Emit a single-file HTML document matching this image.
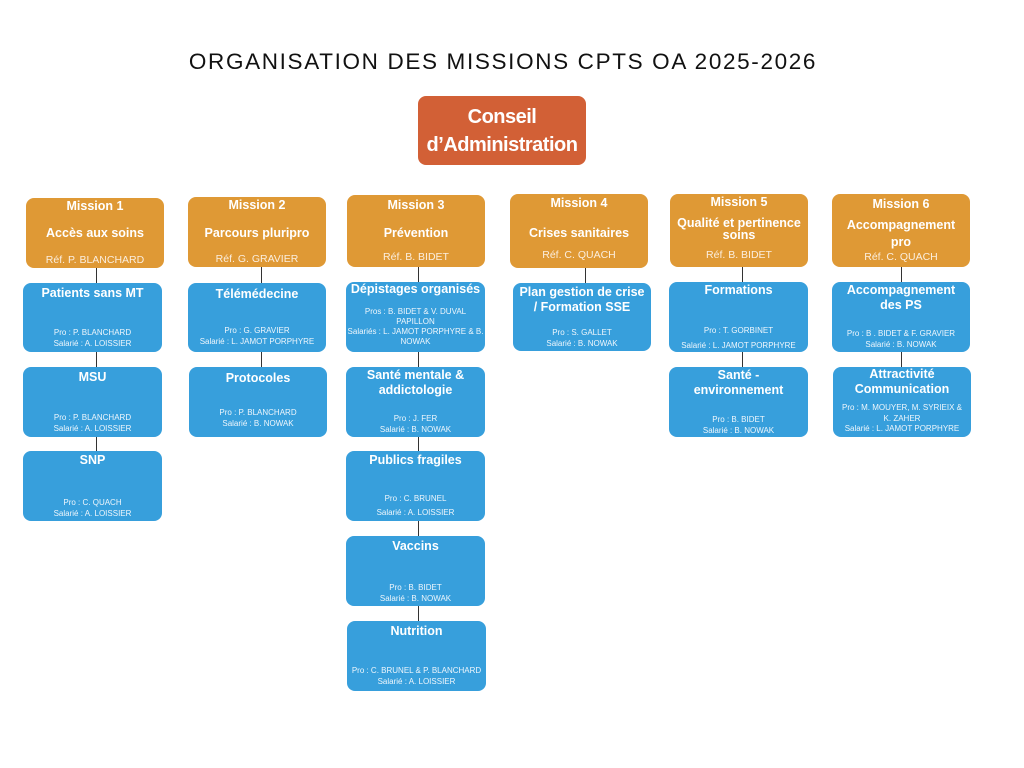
<!DOCTYPE html>
<html><head><meta charset="utf-8"><style>
body{margin:0;width:1024px;height:768px;background:#fff;position:relative;overflow:hidden;font-family:"Liberation Sans",sans-serif}
.t{position:absolute;left:0;width:1006px;top:49px;text-align:center;font-size:22.5px;letter-spacing:1.65px;color:#111}
.b{position:absolute;border-radius:8px;color:#fff;text-align:center}
.o{background:#df9935}
.c{background:#379fdc}
.h{position:absolute;left:0;right:0;font-weight:bold;font-size:12.5px;line-height:15px}
.s{position:absolute;left:0;right:0;font-size:8px;line-height:10.5px;color:#eef6fc;white-space:nowrap}
.r{position:absolute;left:0;right:0;font-size:10.5px;color:#fbeede}
.l{position:absolute;width:1px;background:#333}
</style></head><body>
<div class="t">ORGANISATION DES MISSIONS CPTS OA 2025-2026</div>
<div class="b" style="left:418px;top:96px;width:168px;height:69px;background:#d26036"><div class="h" style="top:7px;font-size:20px;line-height:28px;letter-spacing:-0.5px">Conseil<br>d’Administration</div></div>

<!-- missions -->
<div class="b o" style="left:26px;top:198px;width:138px;height:70px"><div class="h" style="top:1px">Mission 1</div><div class="h" style="top:28px">Accès aux soins</div><div class="r" style="top:56px">Réf. P. BLANCHARD</div></div>
<div class="b o" style="left:188px;top:197px;width:138px;height:70px"><div class="h" style="top:1px">Mission 2</div><div class="h" style="top:29px">Parcours pluripro</div><div class="r" style="top:56px">Réf. G. GRAVIER</div></div>
<div class="b o" style="left:347px;top:195px;width:138px;height:72px"><div class="h" style="top:3px">Mission 3</div><div class="h" style="top:31px">Prévention</div><div class="r" style="top:56px">Réf. B. BIDET</div></div>
<div class="b o" style="left:510px;top:194px;width:138px;height:74px"><div class="h" style="top:2px">Mission 4</div><div class="h" style="top:32px">Crises sanitaires</div><div class="r" style="top:55px">Réf. C. QUACH</div></div>
<div class="b o" style="left:670px;top:194px;width:138px;height:73px"><div class="h" style="top:1px">Mission 5</div><div class="h" style="top:23px;line-height:12px">Qualité et pertinence<br>soins</div><div class="r" style="top:55px">Réf. B. BIDET</div></div>
<div class="b o" style="left:832px;top:194px;width:138px;height:73px"><div class="h" style="top:3px">Mission 6</div><div class="h" style="top:23px;line-height:17px">Accompagnement<br>pro</div><div class="r" style="top:57px">Réf. C. QUACH</div></div>

<!-- connectors -->
<div class="l" style="left:96px;top:268px;height:183px"></div>
<div class="l" style="left:261px;top:267px;height:100px"></div>
<div class="l" style="left:418px;top:267px;height:355px"></div>
<div class="l" style="left:585px;top:268px;height:15px"></div>
<div class="l" style="left:742px;top:267px;height:100px"></div>
<div class="l" style="left:901px;top:267px;height:100px"></div>

<!-- col1 -->
<div class="b c" style="left:23px;top:283px;width:139px;height:69px"><div class="h" style="top:3px">Patients sans MT</div><div class="s" style="top:45px">Pro : P. BLANCHARD<br>Salarié : A. LOISSIER</div></div>
<div class="b c" style="left:23px;top:367px;width:139px;height:70px"><div class="h" style="top:3px">MSU</div><div class="s" style="top:46px">Pro : P. BLANCHARD<br>Salarié : A. LOISSIER</div></div>
<div class="b c" style="left:23px;top:451px;width:139px;height:70px"><div class="h" style="top:2px">SNP</div><div class="s" style="top:47px">Pro : C. QUACH<br>Salarié : A. LOISSIER</div></div>
<!-- col2 -->
<div class="b c" style="left:188px;top:283px;width:138px;height:69px"><div class="h" style="top:4px">Télémédecine</div><div class="s" style="top:43px">Pro : G. GRAVIER<br>Salarié : L. JAMOT PORPHYRE</div></div>
<div class="b c" style="left:189px;top:367px;width:138px;height:70px"><div class="h" style="top:4px">Protocoles</div><div class="s" style="top:41px">Pro : P. BLANCHARD<br>Salarié : B. NOWAK</div></div>
<!-- col3 -->
<div class="b c" style="left:346px;top:282px;width:139px;height:70px"><div class="h" style="top:0px">Dépistages organisés</div><div class="s" style="top:25px;line-height:10px">Pros : B. BIDET &amp; V. DUVAL<br>PAPILLON<br>Salariés : L. JAMOT PORPHYRE &amp; B.<br>NOWAK</div></div>
<div class="b c" style="left:346px;top:367px;width:139px;height:70px"><div class="h" style="top:1px">Santé mentale &amp;<br>addictologie</div><div class="s" style="top:47px">Pro : J. FER<br>Salarié : B. NOWAK</div></div>
<div class="b c" style="left:346px;top:451px;width:139px;height:70px"><div class="h" style="top:2px">Publics fragiles</div><div class="s" style="top:43px">Pro : C. BRUNEL</div><div class="s" style="top:57px">Salarié : A. LOISSIER</div></div>
<div class="b c" style="left:346px;top:536px;width:139px;height:70px"><div class="h" style="top:3px">Vaccins</div><div class="s" style="top:47px">Pro : B. BIDET<br>Salarié : B. NOWAK</div></div>
<div class="b c" style="left:347px;top:621px;width:139px;height:70px"><div class="h" style="top:3px">Nutrition</div><div class="s" style="top:45px">Pro : C. BRUNEL &amp; P. BLANCHARD<br>Salarié : A. LOISSIER</div></div>
<!-- col4 -->
<div class="b c" style="left:513px;top:283px;width:138px;height:68px"><div class="h" style="top:2px">Plan gestion de crise<br>/ Formation SSE</div><div class="s" style="top:45px">Pro : S. GALLET<br>Salarié : B. NOWAK</div></div>
<!-- col5 -->
<div class="b c" style="left:669px;top:282px;width:139px;height:70px"><div class="h" style="top:1px">Formations</div><div class="s" style="top:44px">Pro : T. GORBINET</div><div class="s" style="top:59px">Salarié : L. JAMOT PORPHYRE</div></div>
<div class="b c" style="left:669px;top:367px;width:139px;height:70px"><div class="h" style="top:1px">Santé -<br>environnement</div><div class="s" style="top:48px">Pro : B. BIDET<br>Salarié : B. NOWAK</div></div>
<!-- col6 -->
<div class="b c" style="left:832px;top:282px;width:138px;height:70px"><div class="h" style="top:1px">Accompagnement<br>des PS</div><div class="s" style="top:47px">Pro : B . BIDET &amp; F. GRAVIER<br>Salarié : B. NOWAK</div></div>
<div class="b c" style="left:833px;top:367px;width:138px;height:70px"><div class="h" style="top:0px">Attractivité<br>Communication</div><div class="s" style="top:36px">Pro : M. MOUYER, M. SYRIEIX &amp;<br>K. ZAHER<br>Salarié : L. JAMOT PORPHYRE</div></div>
</body></html>
